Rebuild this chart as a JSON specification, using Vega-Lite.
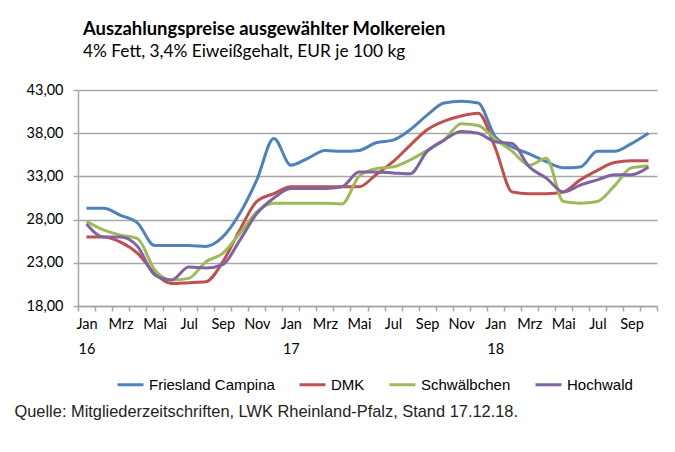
{
  "$schema": "https://vega.github.io/schema/vega-lite/v6.json",
  "width": 579,
  "height": 216,
  "autosize": {"type": "none"},
  "padding": {"left": 78, "top": 90, "right": 18, "bottom": 146},
  "background": "white",
  "title": {
    "text": "Auszahlungspreise ausgewählter Molkereien",
    "subtitle": "4% Fett, 3,4% Eiweißgehalt, EUR je 100 kg",
    "anchor": "start",
    "frame": "group",
    "dx": 5,
    "offset": 22,
    "font": "Lato",
    "fontSize": 18.4,
    "fontWeight": "bold",
    "color": "#000000",
    "subtitleFont": "Lato",
    "subtitleFontSize": 17.3,
    "subtitleColor": "#000000",
    "subtitlePadding": 4
  },
  "data": {
    "values": [
      {"Monat": "Jan 16", "Friesland Campina": 29.3, "DMK": 26.0, "Schwälbchen": 27.8, "Hochwald": 27.5},
      {"Monat": "Feb 16", "Friesland Campina": 29.3, "DMK": 26.0, "Schwälbchen": 26.8, "Hochwald": 26.0},
      {"Monat": "Mrz 16", "Friesland Campina": 28.5, "DMK": 25.4, "Schwälbchen": 26.2, "Hochwald": 26.0},
      {"Monat": "Apr 16", "Friesland Campina": 27.6, "DMK": 24.1, "Schwälbchen": 25.8, "Hochwald": 24.9},
      {"Monat": "Mai 16", "Friesland Campina": 25.0, "DMK": 21.8, "Schwälbchen": 22.2, "Hochwald": 21.6},
      {"Monat": "Jun 16", "Friesland Campina": 25.0, "DMK": 20.6, "Schwälbchen": 21.0, "Hochwald": 21.0},
      {"Monat": "Jul 16", "Friesland Campina": 25.0, "DMK": 20.7, "Schwälbchen": 21.2, "Hochwald": 22.5},
      {"Monat": "Aug 16", "Friesland Campina": 24.9, "DMK": 20.8, "Schwälbchen": 23.1, "Hochwald": 22.4},
      {"Monat": "Sep 16", "Friesland Campina": 26.0, "DMK": 23.1, "Schwälbchen": 24.1, "Hochwald": 22.8},
      {"Monat": "Okt 16", "Friesland Campina": 28.7, "DMK": 26.8, "Schwälbchen": 26.4, "Hochwald": 25.6},
      {"Monat": "Nov 16", "Friesland Campina": 32.6, "DMK": 30.1, "Schwälbchen": 28.9, "Hochwald": 28.7},
      {"Monat": "Dez 16", "Friesland Campina": 37.4, "DMK": 31.0, "Schwälbchen": 29.9, "Hochwald": 30.5},
      {"Monat": "Jan 17", "Friesland Campina": 34.3, "DMK": 31.8, "Schwälbchen": 29.9, "Hochwald": 31.6},
      {"Monat": "Feb 17", "Friesland Campina": 35.1, "DMK": 31.8, "Schwälbchen": 29.9, "Hochwald": 31.6},
      {"Monat": "Mrz 17", "Friesland Campina": 36.0, "DMK": 31.8, "Schwälbchen": 29.9, "Hochwald": 31.6},
      {"Monat": "Apr 17", "Friesland Campina": 35.9, "DMK": 31.8, "Schwälbchen": 29.8, "Hochwald": 31.8},
      {"Monat": "Mai 17", "Friesland Campina": 36.0, "DMK": 31.8, "Schwälbchen": 33.0, "Hochwald": 33.5},
      {"Monat": "Jun 17", "Friesland Campina": 36.9, "DMK": 33.2, "Schwälbchen": 33.9, "Hochwald": 33.5},
      {"Monat": "Jul 17", "Friesland Campina": 37.2, "DMK": 34.7, "Schwälbchen": 34.1, "Hochwald": 33.4},
      {"Monat": "Aug 17", "Friesland Campina": 38.4, "DMK": 36.6, "Schwälbchen": 34.9, "Hochwald": 33.3},
      {"Monat": "Sep 17", "Friesland Campina": 40.1, "DMK": 38.4, "Schwälbchen": 36.0, "Hochwald": 35.9},
      {"Monat": "Okt 17", "Friesland Campina": 41.5, "DMK": 39.4, "Schwälbchen": 37.2, "Hochwald": 37.2},
      {"Monat": "Nov 17", "Friesland Campina": 41.7, "DMK": 40.0, "Schwälbchen": 39.1, "Hochwald": 38.2},
      {"Monat": "Dez 17", "Friesland Campina": 41.5, "DMK": 40.3, "Schwälbchen": 38.9, "Hochwald": 38.0},
      {"Monat": "Jan 18", "Friesland Campina": 37.6, "DMK": 36.3, "Schwälbchen": 37.3, "Hochwald": 37.0},
      {"Monat": "Feb 18", "Friesland Campina": 36.4, "DMK": 31.2, "Schwälbchen": 35.9, "Hochwald": 36.8},
      {"Monat": "Mrz 18", "Friesland Campina": 35.6, "DMK": 31.0, "Schwälbchen": 34.3, "Hochwald": 34.1},
      {"Monat": "Apr 18", "Friesland Campina": 34.7, "DMK": 31.0, "Schwälbchen": 35.1, "Hochwald": 32.8},
      {"Monat": "Mai 18", "Friesland Campina": 34.0, "DMK": 31.2, "Schwälbchen": 30.1, "Hochwald": 31.2},
      {"Monat": "Jun 18", "Friesland Campina": 34.1, "DMK": 32.6, "Schwälbchen": 29.9, "Hochwald": 32.0},
      {"Monat": "Jul 18", "Friesland Campina": 35.9, "DMK": 33.7, "Schwälbchen": 30.1, "Hochwald": 32.6},
      {"Monat": "Aug 18", "Friesland Campina": 35.9, "DMK": 34.6, "Schwälbchen": 31.9, "Hochwald": 33.2},
      {"Monat": "Sep 18", "Friesland Campina": 36.8, "DMK": 34.8, "Schwälbchen": 34.0, "Hochwald": 33.2},
      {"Monat": "Okt 18", "Friesland Campina": 38.0, "DMK": 34.8, "Schwälbchen": 34.2, "Hochwald": 34.1}
    ]
  },
  "transform": [
    {"fold": ["Friesland Campina", "DMK", "Schwälbchen", "Hochwald"], "as": ["Molkerei", "Preis"]}
  ],
  "mark": {"type": "line", "interpolate": "monotone", "strokeWidth": 3},
  "encoding": {
    "x": {
      "field": "Monat",
      "type": "ordinal",
      "sort": null,
      "scale": {"type": "band", "paddingInner": 0, "paddingOuter": 0},
      "axis": {
        "title": "Quelle: Mitgliederzeitschriften, LWK Rheinland-Pfalz, Stand 17.12.18.",
        "titleX": -64,
        "titleY": 105,
        "titleAlign": "left",
        "titleAnchor": "start",
        "titleBaseline": "middle",
        "titleFont": "Liberation Sans",
        "titleFontSize": 16.4,
        "titleFontWeight": "normal",
        "titleColor": "#222222",
        "tickBand": "extent",
        "labelAngle": 0,
        "labelOverlap": false,
        "labelFlush": false,
        "labelFont": "Lato",
        "labelFontSize": 14.5,
        "labelColor": "#000000",
        "labelPadding": 6,
        "labelLineHeight": 25,
        "labelExpr": "(split(datum.value,' ')[0]=='Jan') ? split(datum.value,' ') : (indexof(['Mrz','Mai','Jul','Sep','Nov'], split(datum.value,' ')[0]) >= 0 ? split(datum.value,' ')[0] : '')",
        "grid": false,
        "domainColor": "#a6a6a6",
        "domainWidth": 1.5,
        "tickColor": "#a6a6a6",
        "tickWidth": 1.5,
        "tickSize": 5
      }
    },
    "y": {
      "field": "Preis",
      "type": "quantitative",
      "scale": {"domain": [18, 43], "nice": false, "zero": false},
      "axis": {
        "title": null,
        "values": [18, 23, 28, 33, 38, 43],
        "labelExpr": "replace(format(datum.value,'.2f'),'.',',')",
        "labelFont": "Lato",
        "labelFontSize": 14.5,
        "labelColor": "#000000",
        "labelPadding": 10,
        "grid": true,
        "gridColor": "#a6a6a6",
        "gridWidth": 1.5,
        "domainColor": "#a6a6a6",
        "domainWidth": 1.5,
        "tickColor": "#a6a6a6",
        "tickWidth": 1.5,
        "tickSize": 5
      }
    },
    "color": {
      "field": "Molkerei",
      "type": "nominal",
      "sort": ["Friesland Campina", "DMK", "Schwälbchen", "Hochwald"],
      "scale": {
        "domain": ["Friesland Campina", "DMK", "Schwälbchen", "Hochwald"],
        "range": ["#4F81BD", "#C0504D", "#9BBB59", "#8064A2"]
      },
      "legend": {
        "title": null,
        "orient": "none",
        "legendX": 38,
        "legendY": 280,
        "direction": "horizontal",
        "symbolType": "stroke",
        "symbolStrokeWidth": 3,
        "symbolSize": 676,
        "labelFont": "Liberation Sans",
        "labelFontSize": 15,
        "labelColor": "#000000",
        "labelOffset": 4,
        "columnPadding": 18
      }
    }
  },
  "config": {
    "view": {"stroke": null}
  }
}
